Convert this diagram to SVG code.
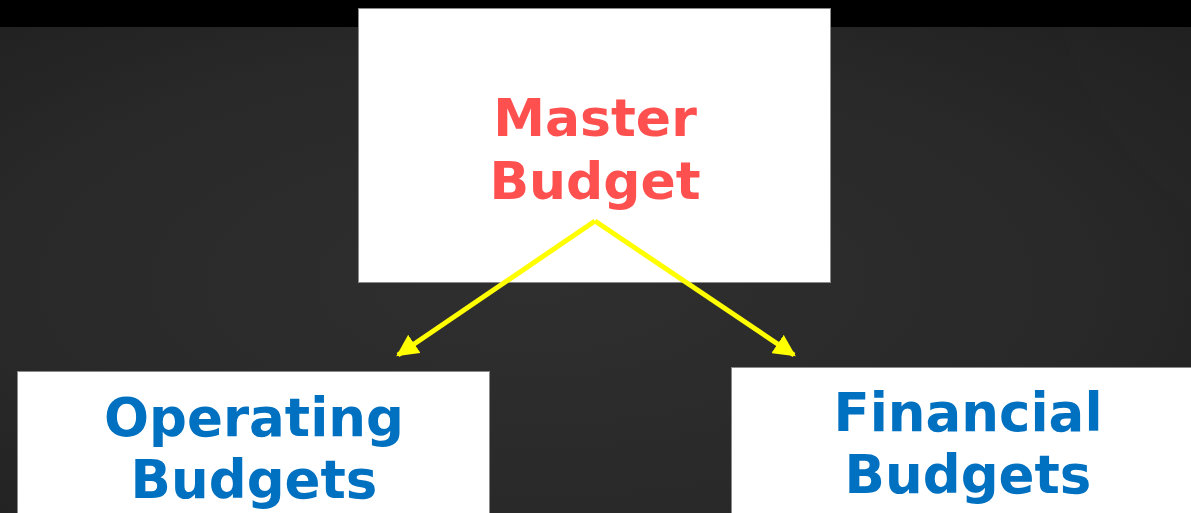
<svg xmlns="http://www.w3.org/2000/svg" width="1191" height="513" viewBox="0 0 1191 513">
  <defs>
    <radialGradient id="bg" cx="0.45" cy="0.55" r="0.75">
      <stop offset="0" stop-color="#2f2f2f"/>
      <stop offset="0.6" stop-color="#292929"/>
      <stop offset="1" stop-color="#1f1f1f"/>
    </radialGradient>
    <marker id="arrow" viewBox="0 0 10 10" refX="9" refY="5" markerWidth="4.4" markerHeight="4.4" orient="auto" markerUnits="strokeWidth">
      <path d="M0,0 L10,5 L0,10 Z" fill="#ffff00"/>
    </marker>
    <style>
      .box { fill: #ffffff; stroke: #8a8a8a; stroke-width: 1; }
      .label { font-family: "DejaVu Sans", "Liberation Sans", sans-serif; font-weight: bold; text-anchor: middle; }
      .red { fill: #ff5050; font-size: 52px; }
      .blue { fill: #0070c0; font-size: 53px; }
      .link { stroke: #ffff00; stroke-width: 5; fill: none; stroke-linecap: butt; stroke-linejoin: miter; }
    </style>
  </defs>

  <!-- slide background -->
  <rect x="0" y="0" width="1191" height="513" fill="url(#bg)"/>
  <path d="M1062,27 C1085,110 1130,160 1191,210 L1191,27 Z" fill="#ffffff" opacity="0.008"/>
  <rect x="0" y="0" width="1191" height="27" fill="#000000"/>

  <g id="master-budget">
    <rect class="box" x="358.5" y="8.5" width="472" height="274"/>
    <text class="label red" x="595" y="136">Master</text>
    <text class="label red" x="595" y="199">Budget</text>
  </g>

  <g id="operating-budgets">
    <rect class="box" x="17.5" y="371.5" width="472" height="160"/>
    <text class="label blue" x="254" y="436">Operating</text>
    <text class="label blue" x="254" y="498">Budgets</text>
  </g>

  <g id="financial-budgets">
    <rect class="box" x="731.5" y="367.5" width="480" height="160"/>
    <text class="label blue" x="968" y="431">Financial</text>
    <text class="label blue" x="968" y="493">Budgets</text>
  </g>

  <g id="connectors">
    <path class="link" d="M595,221 L398,355" marker-end="url(#arrow)"/>
    <path class="link" d="M595,221 L794,355" marker-end="url(#arrow)"/>
  </g>
</svg>
